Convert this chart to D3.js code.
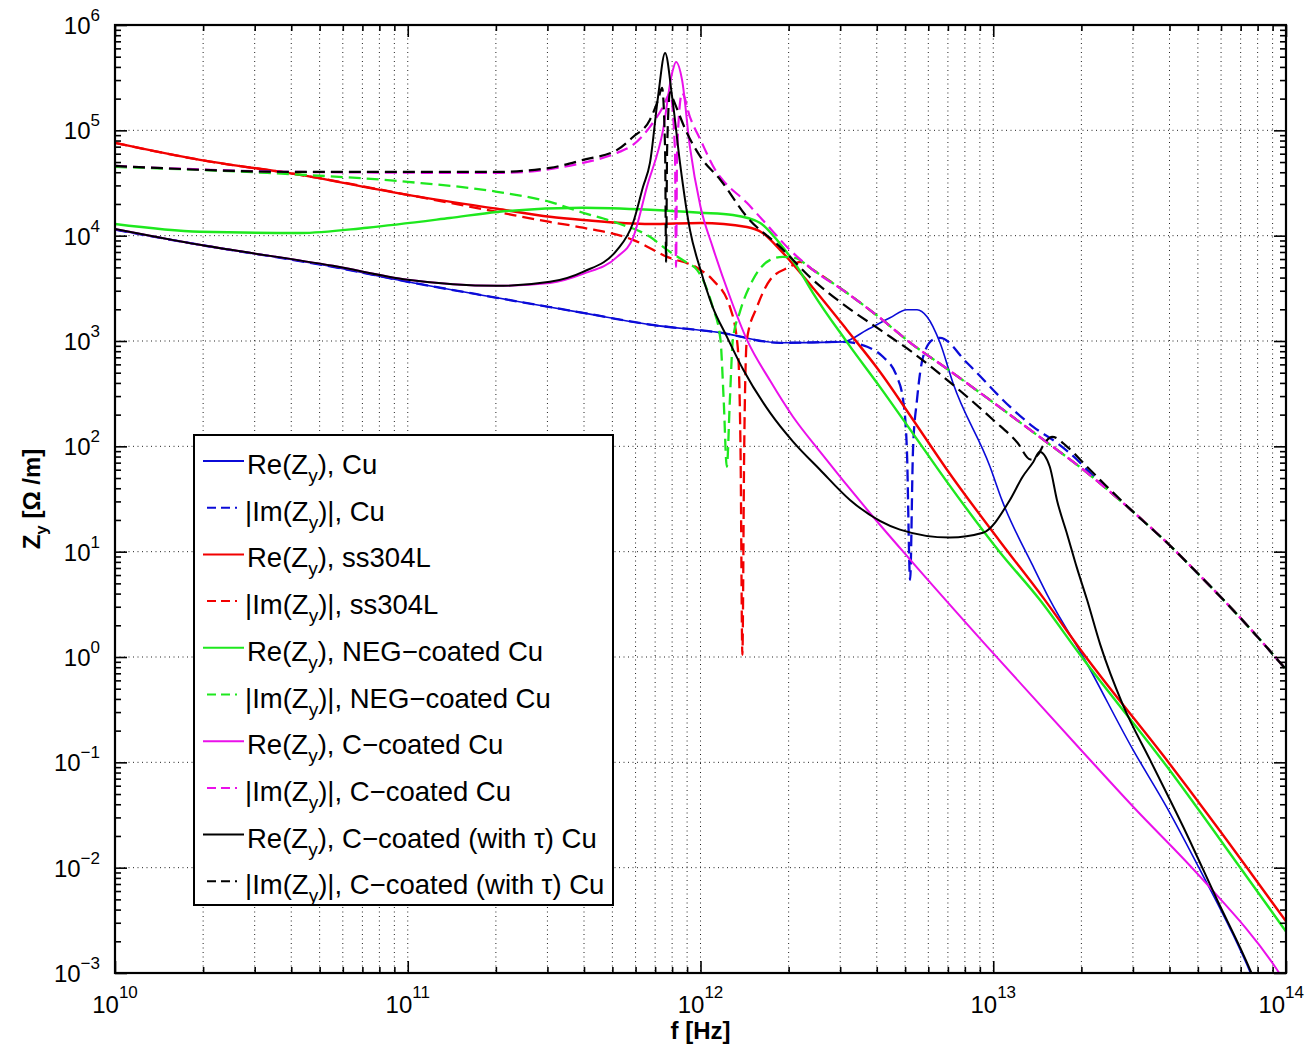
<!DOCTYPE html>
<html><head><meta charset="utf-8">
<script src="https://cdn.jsdelivr.net/npm/d3@7"></script>
<style>body{margin:0;background:#fff}</style>
</head><body>
<svg id="c" width="1307" height="1045"></svg>
<script>
// ---- data: [frequency Hz, Z_y Ohm/m] ----
const reCu = [[1e10,1.14e4],[1.95e10,8.18e3],[5.55e10,5.06e3],[1e11,3.65e3],[2.02e11,2.57e3],[3.97e11,1.85e3],[6.72e11,1.43e3],[1.17e12,1.2e3],[1.87e12,961],[3.07e12,982],[3.71e12,1.28e3],[4.44e12,1.66e3],[5.07e12,1.98e3],[5.49e12,1.98e3],[5.94e12,1.7e3],[6.58e12,961],[7.28e12,401],[9.75e12,64],[1.07e13,31],[1.37e13,7.2],[1.56e13,3.5],[2.03e13,1.0],[3.0e13,0.132],[3.92e13,0.0372],[5.08e13,0.0096],[6.59e13,0.00232],[7.53e13,0.00103],[8.48e13,4.5e-4]];
const imCu = [[1e10,1.14e4],[1.95e10,8.18e3],[5.55e10,5.06e3],[1e11,3.65e3],[2.02e11,2.57e3],[3.97e11,1.85e3],[6.72e11,1.43e3],[1.17e12,1.2e3],[1.87e12,961],[3.07e12,982],[3.71e12,881],[4.2e12,708],[4.69e12,457],[4.92e12,277],[5.07e12,93],[5.2e12,5.4],[5.32e12,93],[5.49e12,277],[5.76e12,708],[6.23e12,1.03e3],[6.58e12,1.07e3],[8.13e12,621],[1.14e13,238],[1.37e13,153],[1.65e13,108],[1.93e13,75],[2.14e13,56],[3.0e13,24],[4.02e13,11.4],[5.08e13,5.92],[6.29e13,3.21],[8.61e13,1.23],[1e14,0.76]];
const reSS = [[1e10,7.6e4],[1.95e10,5.24e4],[4.29e10,3.78e4],[1e11,2.44e4],[2.02e11,1.8e4],[3.06e11,1.51e4],[3.97e11,1.41e4],[6.72e11,1.29e4],[1e12,1.32e4],[1.44e12,1.21e4],[1.63e12,1.06e4],[1.87e12,7.33e3],[2.42e12,3.2e3],[3.16e12,1.28e3],[4.1e12,511],[5.32e12,179],[6.95e12,60],[1.05e13,12.7],[1.48e13,3.66],[2.01e13,1.12],[4.02e13,0.0953],[7.36e13,0.0100],[1e14,0.00309]];
const imSS = [[1e10,7.6e4],[1.95e10,5.24e4],[4.29e10,3.78e4],[1e11,2.44e4],[2.02e11,1.68e4],[3.06e11,1.35e4],[3.97e11,1.19e4],[5.88e11,9.13e3],[7.69e11,6.29e3],[9.73e11,4.95e3],[1.1e12,3.81e3],[1.26e12,2.11e3],[1.34e12,881],[1.37e12,93],[1.39e12,1.05],[1.41e12,93],[1.44e12,1.03e3],[1.56e12,2.11e3],[1.73e12,3.81e3],[2.02e12,5.06e3],[2.19e12,5.64e3],[2.42e12,4.74e3],[3.16e12,2.87e3],[4.1e12,1.66e3],[5.32e12,920],[6.95e12,545],[9.01e12,323],[1.48e13,116],[2.03e13,60],[3.0e13,24],[4.02e13,11.4],[5.08e13,5.92],[6.29e13,3.21],[8.61e13,1.23],[1e14,0.76]];
const reNEG = [[1e10,1.29e4],[1.95e10,1.09e4],[4.29e10,1.06e4],[7.26e10,1.19e4],[1.39e11,1.47e4],[2.02e11,1.68e4],[3.97e11,1.84e4],[6.72e11,1.76e4],[1e12,1.65e4],[1.29e12,1.57e4],[1.6e12,1.32e4],[1.87e12,8.36e3],[2.14e12,5.06e3],[2.42e12,2.87e3],[3.16e12,982],[4.1e12,367],[5.32e12,132],[6.95e12,46],[1.05e13,10],[1.44e13,3.51],[1.98e13,1.05],[3.92e13,0.0912],[7.13e13,0.0092],[1e14,0.00248]];
const imNEG = [[1e10,4.5e4],[3.31e10,3.94e4],[1e11,3.24e4],[2.02e11,2.61e4],[3.06e11,2.09e4],[3.97e11,1.65e4],[5.19e11,1.32e4],[6.72e11,9.75e3],[7.69e11,7.33e3],[9e11,5.52e3],[9.73e11,4.74e3],[1.1e12,2.11e3],[1.17e12,1.03e3],[1.2e12,277],[1.23e12,64],[1.26e12,277],[1.29e12,1.03e3],[1.36e12,1.85e3],[1.51e12,3.81e3],[1.73e12,5.89e3],[1.91e12,6.29e3],[2.1e12,6.15e3],[2.42e12,4.74e3],[3.16e12,2.87e3],[4.1e12,1.66e3],[5.32e12,920],[6.95e12,545],[9.01e12,323],[1.48e13,116],[2.03e13,60],[3.0e13,24],[4.02e13,11.4],[5.08e13,5.92],[6.29e13,3.21],[8.61e13,1.23],[1e14,0.76]];
const reC = [[1e10,1.16e4],[1.95e10,8.18e3],[5.55e10,5.17e3],[1e11,3.81e3],[2.02e11,3.34e3],[3.06e11,3.56e3],[3.97e11,4.34e3],[5.19e11,6.29e3],[5.88e11,9.53e3],[6.56e11,2.9e4],[7.45e11,1.01e5],[8e11,3.51e5],[8.25e11,4.46e5],[8.65e11,3.01e5],[9.2e11,6.96e4],[1e12,1.88e4],[1.1e12,7.83e3],[1.26e12,2.63e3],[1.44e12,1.03e3],[1.73e12,419],[2.07e12,191],[2.56e12,89],[3.71e12,25],[5.2e12,8.4],[9.52e12,1.26],[2.03e13,0.124],[3e13,0.0381],[5.08e13,0.00826],[9.31e13,0.00108],[1.03e14,7e-4]];
const imC = [[1e10,4.59e4],[4.29e10,4.03e4],[2.02e11,3.94e4],[3.97e11,4.91e4],[5.19e11,6.11e4],[5.88e11,7.27e4],[6.72e11,1.08e5],[7.45e11,1.67e5],[7.87e11,2.26e5],[8.18e11,6.52e4],[8.25e11,5.06e3],[8.32e11,6.52e4],[8.65e11,2.26e5],[9.2e11,1.34e5],[1e12,8.1e4],[1.14e12,3.94e4],[1.19e12,3.38e4],[1.44e12,2.05e4],[1.63e12,1.41e4],[2.02e12,7.33e3],[2.42e12,4.74e3],[3.16e12,2.87e3],[4.1e12,1.66e3],[5.32e12,920],[6.95e12,545],[9.01e12,323],[1.48e13,116],[2.03e13,60],[3.0e13,24],[4.02e13,11.4],[5.08e13,5.92],[6.29e13,3.21],[8.61e13,1.23],[1e14,0.76]];
const reCt = [[1e10,1.16e4],[1.95e10,8.18e3],[5.55e10,5.17e3],[1e11,3.81e3],[2.02e11,3.34e3],[3.06e11,3.65e3],[3.97e11,4.54e3],[5.19e11,7.33e3],[5.88e11,1.32e4],[6.36e11,2.9e4],[6.72e11,4.91e4],[7.16e11,2.08e5],[7.57e11,5.42e5],[8e11,2.08e5],[8.51e11,4.91e4],[9.2e11,1.14e4],[1e12,4.74e3],[1.1e12,2.11e3],[1.23e12,1.1e3],[1.4e12,533],[1.73e12,208],[2.07e12,111],[2.56e12,60],[3.24e12,31],[4.8e12,16.2],[7.11e12,13.6],[9.22e12,15.1],[1.14e13,31],[1.26e13,51.5],[1.37e13,71],[1.44e13,89],[1.56e13,64],[1.65e13,31],[1.79e13,14.5],[1.93e13,7.05],[2.09e13,3.51],[2.32e13,1.31],[2.77e13,0.353],[3.43e13,0.106],[4.45e13,0.0246],[5.81e13,0.00499],[7.53e13,0.00108],[8.28e13,5.6e-4]];
const imCt = [[1e10,4.59e4],[4.29e10,4.03e4],[2.02e11,4.03e4],[3.06e11,4.4e4],[3.97e11,5.24e4],[5.19e11,6.52e4],[5.88e11,8.65e4],[6.72e11,1.26e5],[7.16e11,1.94e5],[7.39e11,2.53e5],[7.57e11,6.52e4],[7.63e11,5.64e3],[7.69e11,6.52e4],[7.87e11,2.31e5],[8e11,2.08e5],[9e11,9.4e4],[1e12,5.6e4],[1.17e12,3.38e4],[1.44e12,1.51e4],[1.87e12,7.83e3],[2.42e12,3.81e3],[3.16e12,2.11e3],[4.1e12,1.28e3],[5.32e12,773],[6.95e12,428],[9.98e12,179],[1.21e13,108],[1.34e13,75],[1.42e13,83],[1.5e13,108],[1.59e13,123],[1.79e13,99],[2.09e13,64],[3.0e13,24],[4.02e13,11.4],[5.08e13,5.92],[6.29e13,3.21],[8.61e13,1.23],[1e14,0.76]];

const seriesNames = [
  ["Re(Z", "y", "), Cu"],
  ["|Im(Z", "y", ")|, Cu"],
  ["Re(Z", "y", "), ss304L"],
  ["|Im(Z", "y", ")|, ss304L"],
  ["Re(Z", "y", "), NEG\u2212coated Cu"],
  ["|Im(Z", "y", ")|, NEG\u2212coated Cu"],
  ["Re(Z", "y", "), C\u2212coated Cu"],
  ["|Im(Z", "y", ")|, C\u2212coated Cu"],
  ["Re(Z", "y", "), C\u2212coated (with \u03c4) Cu"],
  ["|Im(Z", "y", ")|, C\u2212coated (with \u03c4) Cu"]
];
const xTickExps = [10, 11, 12, 13, 14];
const yTickExps = [-3, -2, -1, 0, 1, 2, 3, 4, 5, 6];
const xLabel = "f [Hz]";
const yLabel = ["Z", "y", " [\u03a9 /m]"];

// ---- styles ----
const seriesData = [reCu, imCu, reSS, imSS, reNEG, imNEG, reC, imC, reCt, imCt];
const colors = ["#0b0bd8","#0b0bd8","#f20000","#f20000","#1ee81e","#1ee81e","#ea10ea","#ea10ea","#000","#000"];
const dashed = [false,true,false,true,false,true,false,true,false,true];
const widths = [1.6,2.3,2.4,2.3,2.4,2.3,2,2.2,2,2.2];

const M = {l:115, r:1286, t:25, b:973};
const W = 1307;
const font = '"Liberation Sans", Arial, Helvetica, sans-serif';
const svg = d3.select('#c');
svg.append('rect').attr('width',1307).attr('height',1045).attr('fill','#fff');

const x = d3.scaleLog().domain([1e10,1e14]).range([M.l,M.r]);
const y = d3.scaleLog().domain([1e-3,1e6]).range([M.b,M.t]);

const xMinor = [];
for (let e=10;e<14;e++) for (let m=2;m<=9;m++) xMinor.push(m*Math.pow(10,e));
const yMinor = [];
for (let e=-3;e<6;e++) for (let m=2;m<=9;m++) yMinor.push(m*Math.pow(10,e));
const xMajor = xTickExps.map(e=>Math.pow(10,e));
const yMajor = yTickExps.map(e=>Math.pow(10,e));

// grid
const grid = svg.append('g').attr('stroke','#222').attr('stroke-width',1).attr('stroke-dasharray','1,3.5');
grid.selectAll('line.gx').data(xMajor.slice(1,-1).concat(xMinor)).join('line').attr('class','gx')
  .attr('x1',d=>x(d)).attr('x2',d=>x(d)).attr('y1',M.t).attr('y2',M.b);
grid.selectAll('line.gy').data(yMajor.slice(1,-1)).join('line').attr('class','gy')
  .attr('y1',d=>y(d)).attr('y2',d=>y(d)).attr('x1',M.l).attr('x2',M.r);

// lines
svg.append('clipPath').attr('id','clip').append('rect')
  .attr('x',M.l).attr('y',M.t).attr('width',M.r-M.l).attr('height',M.b-M.t);
const line = d3.line().x(d=>x(d[0])).y(d=>y(d[1])).curve(d3.curveMonotoneX);
const plot = svg.append('g').attr('clip-path','url(#clip)');
seriesData.forEach((s,i)=>{
  plot.append('path').attr('d',line(s)).attr('fill','none')
    .attr('stroke',colors[i]).attr('stroke-width',widths[i])
    .attr('stroke-linejoin','round')
    .attr('stroke-dasharray',dashed[i]?'12,6':null);
});

// ticks inside on all four sides
function styleAxis(g){ g.select('.domain').remove(); g.selectAll('line').attr('stroke','#000').attr('stroke-width',1.6); g.selectAll('text').remove(); }
svg.append('g').attr('transform',`translate(0,${M.b})`).call(d3.axisBottom(x).tickValues(xMajor).tickSize(-12).tickFormat('')).call(styleAxis);
svg.append('g').attr('transform',`translate(0,${M.b})`).call(d3.axisBottom(x).tickValues(xMinor).tickSize(-6).tickFormat('')).call(styleAxis);
svg.append('g').attr('transform',`translate(0,${M.t})`).call(d3.axisTop(x).tickValues(xMajor).tickSize(-12).tickFormat('')).call(styleAxis);
svg.append('g').attr('transform',`translate(0,${M.t})`).call(d3.axisTop(x).tickValues(xMinor).tickSize(-6).tickFormat('')).call(styleAxis);
svg.append('g').attr('transform',`translate(${M.l},0)`).call(d3.axisLeft(y).tickValues(yMajor).tickSize(-12).tickFormat('')).call(styleAxis);
svg.append('g').attr('transform',`translate(${M.l},0)`).call(d3.axisLeft(y).tickValues(yMinor).tickSize(-6).tickFormat('')).call(styleAxis);
svg.append('g').attr('transform',`translate(${M.r},0)`).call(d3.axisRight(y).tickValues(yMajor).tickSize(-12).tickFormat('')).call(styleAxis);
svg.append('g').attr('transform',`translate(${M.r},0)`).call(d3.axisRight(y).tickValues(yMinor).tickSize(-6).tickFormat('')).call(styleAxis);

// box
svg.append('rect').attr('x',M.l).attr('y',M.t).attr('width',M.r-M.l).attr('height',M.b-M.t)
  .attr('fill','none').attr('stroke','#000').attr('stroke-width',2.2);

// tick labels
const fmtExp = e => e<0 ? '\u2212'+Math.abs(e) : String(e);
xTickExps.forEach(e=>{
  const px = x(Math.pow(10,e));
  const nearEdge = px + 24 > W;
  const t = svg.append('text').attr('x',nearEdge ? W-3 : px).attr('y',1013)
    .attr('text-anchor',nearEdge ? 'end' : 'middle').attr('font-family',font).attr('font-size',24).attr('fill','#000');
  t.append('tspan').text('10');
  t.append('tspan').attr('dy',-15).attr('font-size',17).text(fmtExp(e));
});
yTickExps.forEach(e=>{
  const t = svg.append('text').attr('x',100).attr('y',y(Math.pow(10,e))+9)
    .attr('text-anchor','end').attr('font-family',font).attr('font-size',24).attr('fill','#000');
  t.append('tspan').text('10');
  t.append('tspan').attr('dy',-13).attr('font-size',17).text(fmtExp(e));
});

// axis labels
svg.append('text').attr('x',(M.l+M.r)/2).attr('y',1039).attr('text-anchor','middle')
  .attr('font-family',font).attr('font-size',24).attr('font-weight','bold').text(xLabel);
{
  const t = svg.append('text').attr('transform',`translate(40,${(M.t+M.b)/2}) rotate(-90)`)
    .attr('text-anchor','middle').attr('font-family',font).attr('font-size',24).attr('font-weight','bold');
  t.append('tspan').text(yLabel[0]);
  t.append('tspan').attr('dy',7).attr('font-size',17).text(yLabel[1]);
  t.append('tspan').attr('dy',-7).text(yLabel[2]);
}

// legend
const lg = svg.append('g');
lg.append('rect').attr('x',194).attr('y',435).attr('width',419).attr('height',470)
  .attr('fill','#fff').attr('stroke','#000').attr('stroke-width',2);
seriesNames.forEach((nm,i)=>{
  const by = 474 + i*46.7;
  lg.append('line').attr('x1',dashed[i]?207:203).attr('x2',244).attr('y1',by-13).attr('y2',by-13)
    .attr('stroke',colors[i]).attr('stroke-width',2)
    .attr('stroke-dasharray',dashed[i]?'9,5,9,5,2':null);
  const t = lg.append('text').attr('x',dashed[i]?245:247).attr('y',by)
    .attr('font-family',font).attr('font-size',27.5).attr('fill','#000');
  t.append('tspan').text(nm[0]);
  t.append('tspan').attr('dy',8).attr('font-size',19).text(nm[1]);
  t.append('tspan').attr('dy',-8).text(nm[2]);
});
</script>
</body></html>
